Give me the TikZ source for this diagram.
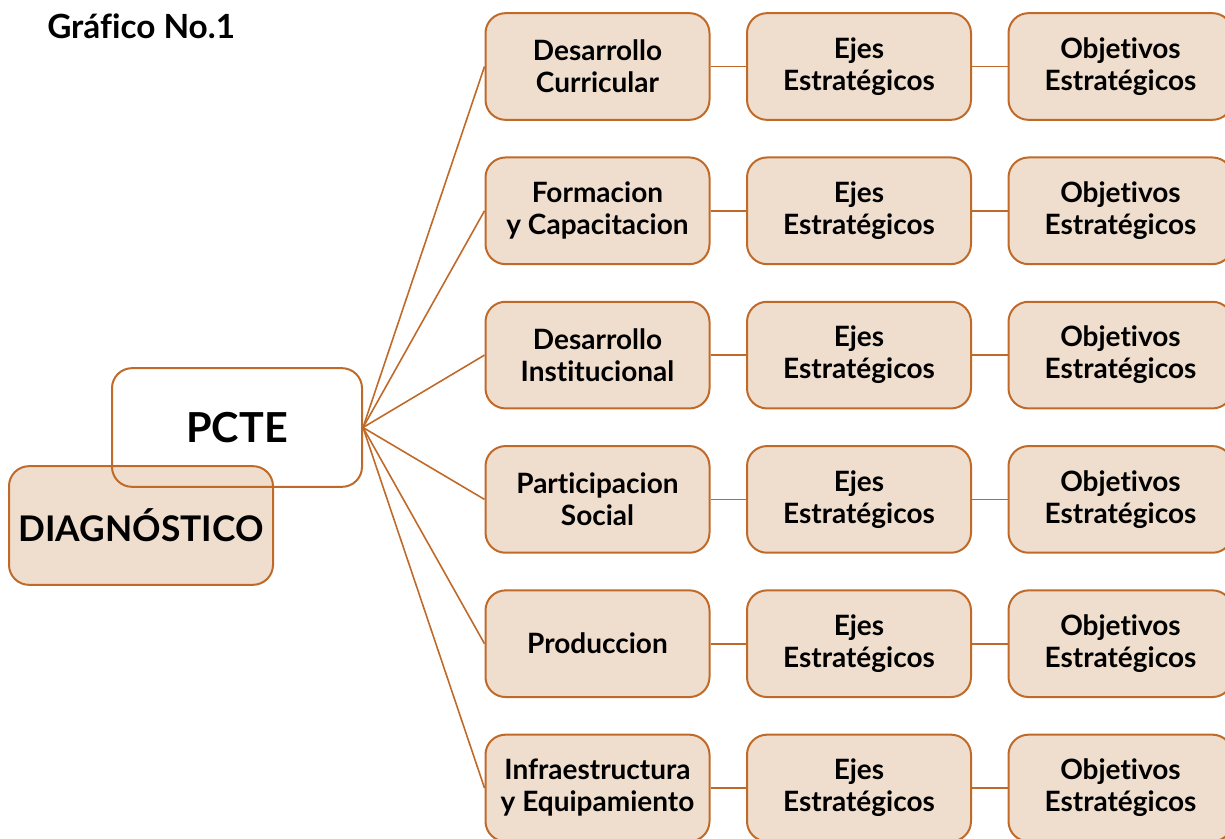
\documentclass[tikz,border=0pt]{standalone}
\usepackage{fontspec}
\setmainfont{Lato}[Ligatures=NoCommon]
\definecolor{edge}{RGB}{192,106,42}
\definecolor{boxfill}{RGB}{239,222,205}
\begin{document}
\begin{tikzpicture}[x=0.75pt,y=-0.75pt,
  box/.style={draw=edge,line width=1.5pt,fill=boxfill,rounded corners=15pt,
    minimum width=168pt,minimum height=80pt,inner sep=0pt,align=center,
    font=\fontsize{21}{24}\selectfont\bfseries},
  link/.style={draw=edge,line width=1.2pt}]
\useasboundingbox (0,0) rectangle (1225,839);
\clip (0,0) rectangle (1225,839);
\node[anchor=west,inner sep=0pt,font=\fontsize{25}{28}\selectfont\bfseries] (title) at (47,26) {Gráfico No.1};
\node[box,minimum width=198pt,minimum height=89pt,font=\fontsize{26.5}{30}\selectfont\bfseries] (diag) at (141,525.5) {DIAGNÓSTICO};
\node[draw=edge,line width=1.5pt,rounded corners=15pt,minimum width=187.5pt,minimum height=89pt,
  font=\fontsize{31}{34}\selectfont\bfseries] (pcte) at (237,427.5) {PCTE};
\foreach \i/\txt in {1/{Desarrollo\\Curricular},2/{Formacion\\y Capacitacion},3/{Desarrollo\\Institucional},4/{Participacion\\Social},5/{Produccion},6/{Infraestructura\\y Equipamiento}}{
  \pgfmathsetmacro{\yy}{66.5+144.3*(\i-1)}
  \node[box] (d\i) at (597.5,\yy) {\txt};
  \node[box] (e\i) at (859,\yy) {Ejes\\Estratégicos};
  \node[box] (o\i) at (1120.5,\yy) {Objetivos\\Estratégicos};
  \draw[link] (pcte.east) -- (d\i.west);
  \draw[link] (d\i.east) -- (e\i.west);
  \draw[link] (e\i.east) -- (o\i.west);
}
\end{tikzpicture}
\end{document}
